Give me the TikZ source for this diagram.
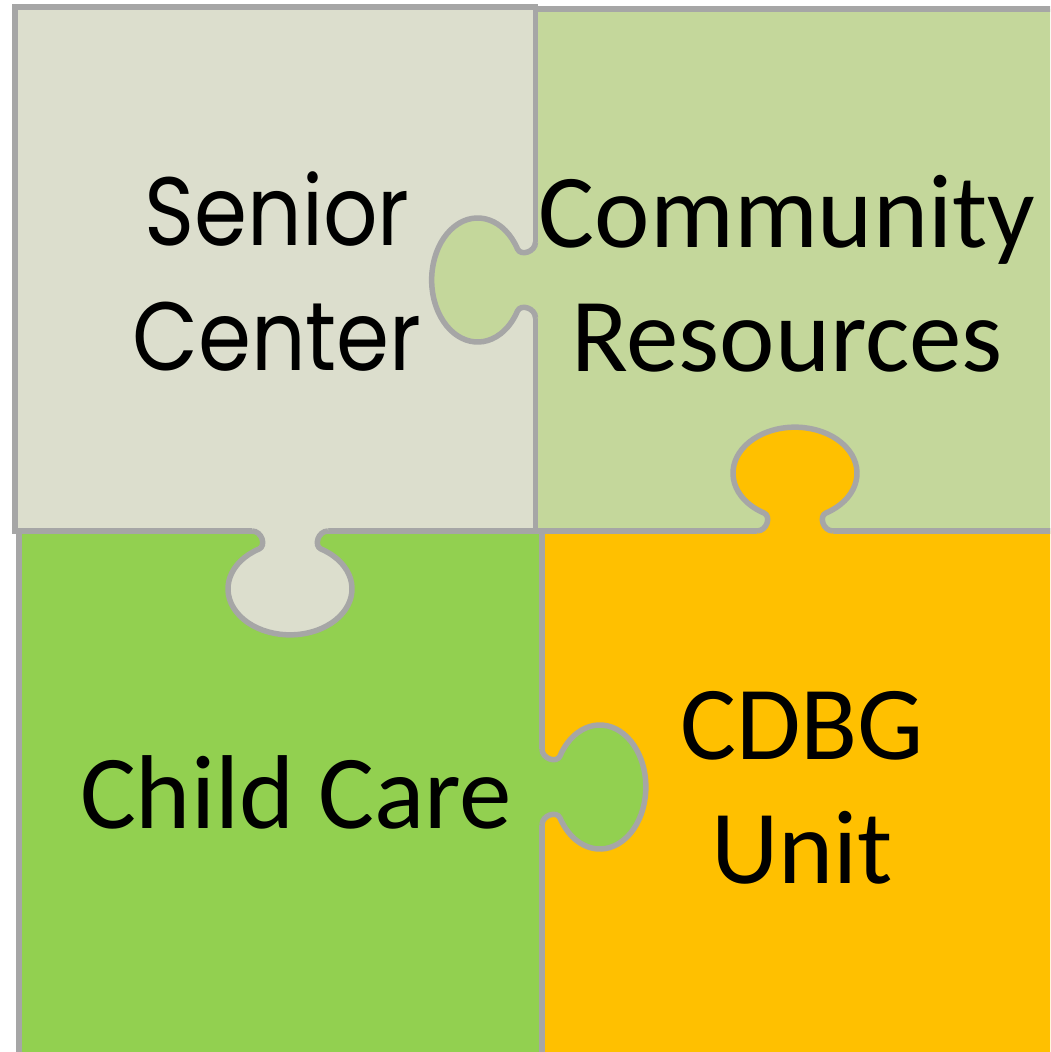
\documentclass[tikz,border=0pt]{standalone}
\usepackage{fontspec}
\setmainfont{Carlito}
\newfontfamily\seniorfont[FakeStretch=0.88]{Poppins}
\definecolor{edgegray}{RGB}{166,166,166}
\definecolor{seniorgray}{RGB}{220,222,205}
\definecolor{communitygreen}{RGB}{196,215,155}
\definecolor{childgreen}{RGB}{146,208,80}
\definecolor{cdbgorange}{RGB}{255,192,0}
\tikzset{
  piece/.style={draw=edgegray, line width=5.5pt},
  tabedge/.style={draw=edgegray, line width=5.5pt},
  piecetext/.style={inner sep=0pt, align=center,
    font=\fontsize{105}{124}\selectfont},
  seniortext/.style={inner sep=0pt, align=center,
    font=\seniorfont\fontsize{97}{125}\selectfont}
}
% #1 origin on the edge, #2 rotation, #3 colour of the piece that owns the tab
\newcommand{\puzzletab}[3]{%
  \begin{scope}[shift={#1}, rotate=#2]
    \fill[#3] (-38,-4) -- (-38,0) .. controls (-28,0) and (-23.65,14.85) .. (-31,18)
      arc[start angle=240, end angle=-60, x radius=62, y radius=46]
      .. controls (23.65,14.85) and (28,0) .. (38,0) -- (38,-4) -- cycle;
    \draw[tabedge] (-38,0) .. controls (-28,0) and (-23.65,14.85) .. (-31,18)
      arc[start angle=240, end angle=-60, x radius=62, y radius=46]
      .. controls (23.65,14.85) and (28,0) .. (38,0);
  \end{scope}}

\begin{document}
\begin{tikzpicture}[x=1pt, y=-1pt]
\useasboundingbox (0,0) rectangle (1050,1052);
\clip (0,0) rectangle (1050,1052);

\fill[white] (0,0) rectangle (1050,1052);
\draw[piece, fill=seniorgray] (15,7) rectangle (535.5,531);
\draw[piece, fill=communitygreen] (535.5,9) rectangle (1070,531);
\draw[piece, fill=childgreen] (19,531) rectangle (542,1070);
\draw[piece, fill=cdbgorange] (542,531) rectangle (1070,1070);

\puzzletab{(535.5,280)}{-90}{communitygreen}
\puzzletab{(795,531)}{180}{cdbgorange}
\puzzletab{(290,531)}{0}{seniorgray}
\puzzletab{(542,787)}{90}{childgreen}

\node[seniortext] (senior) at (277,272) {Senior\\Center};
\node[piecetext] (community) at (787,274) {Community\\Resources};
\node[piecetext, anchor=base] (child) at (296,828) {Child Care};
\node[piecetext] (cdbg) at (802,788) {CDBG\\Unit};
\end{tikzpicture}
\end{document}
